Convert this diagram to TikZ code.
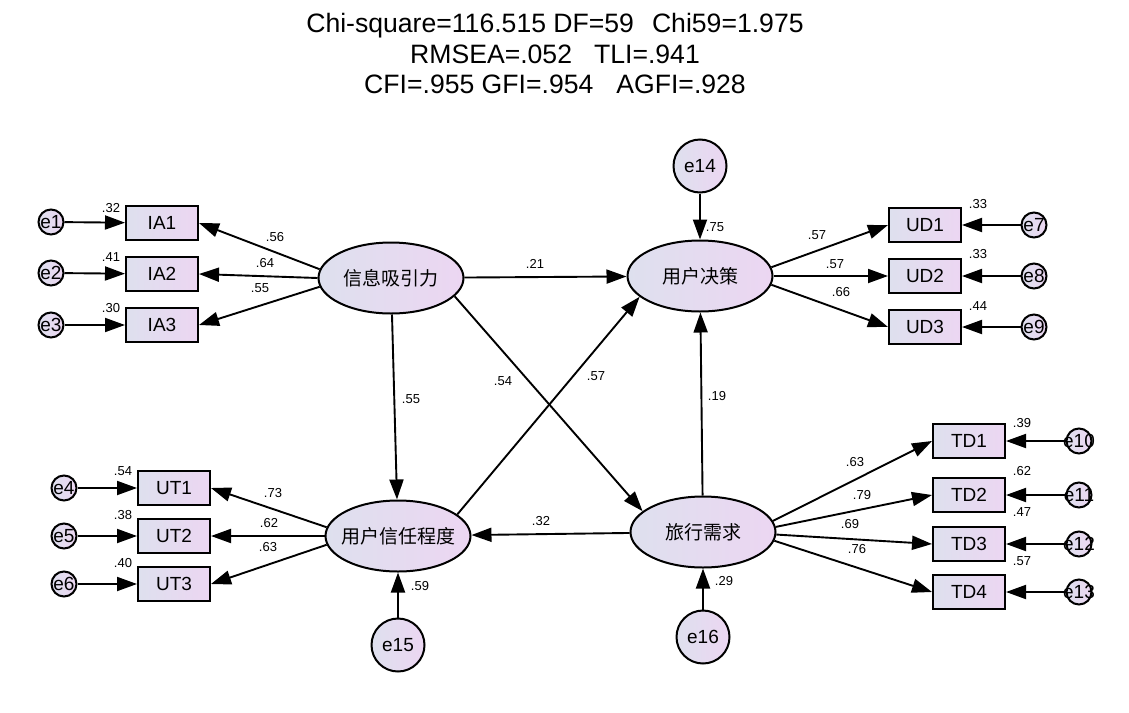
\documentclass[tikz,border=0pt]{standalone}
\usepackage{fontspec}
\setmainfont{Liberation Sans}
\newfontfamily\cjk{Noto Sans CJK SC}
\usetikzlibrary{arrows.meta,shapes.geometric}
\definecolor{shadeL}{RGB}{222,224,238}
\definecolor{shadeR}{RGB}{236,214,242}

\begin{document}
\begin{tikzpicture}[x=1pt, y=-1pt, line width=1.9pt, >={Triangle[length=20pt,width=14pt]},
  obs/.style={draw, line width=2pt, left color=shadeL, right color=shadeR, minimum width=72pt, minimum height=34pt, inner sep=0pt, font=\fontsize{19}{21}\selectfont},
  lat/.style={ellipse, draw, line width=2pt, left color=shadeL, right color=shadeR, minimum width=145pt, minimum height=71pt, inner sep=0pt, inner xsep=-10pt, font=\cjk\fontsize{19}{22}\selectfont},
  err/.style={circle, draw, line width=2pt, left color=shadeL, right color=shadeR, minimum size=25pt, inner sep=0pt, label={[font=\fontsize{19}{21}\selectfont]center:#1}},
  bigerr/.style={circle, draw, line width=2pt, left color=shadeL, right color=shadeR, minimum size=53pt, inner sep=0pt, font=\fontsize{19}{21}\selectfont},
  est/.style={inner sep=0pt, font=\fontsize{13}{15}\selectfont},
  fitline/.style={anchor=base, inner sep=0pt, font=\fontsize{26.6}{30}\selectfont}]
  \useasboundingbox (0,0) rectangle (1129,712);
  % --- fit indices ---
  \node[fitline] (fit1) at (555,32) {Chi-square=116.515 DF=59\hspace{18pt}Chi59=1.975};
  \node[fitline] (fit2) at (555,63) {RMSEA=.052\hspace{22pt}TLI=.941};
  \node[fitline] (fit3) at (555,93) {CFI=.955 GFI=.954\hspace{23pt}AGFI=.928};
  % --- latent variables ---
  \node[lat] (ia) at (391,278) {信息吸引力};
  \node[lat] (ud) at (700,276) {用户决策};
  \node[lat] (ut) at (398,536) {用户信任程度};
  \node[lat] (td) at (703,532) {旅行需求};
  % --- indicators ---
  \node[obs] (IA1) at (162,223) {IA1};
  \node[obs] (IA2) at (162,274) {IA2};
  \node[obs] (IA3) at (162,325) {IA3};
  \node[obs] (UD1) at (925,225) {UD1};
  \node[obs] (UD2) at (925,276) {UD2};
  \node[obs] (UD3) at (925,327) {UD3};
  \node[obs] (UT1) at (174,488) {UT1};
  \node[obs] (UT2) at (174,536) {UT2};
  \node[obs] (UT3) at (174,584) {UT3};
  \node[obs] (TD1) at (969,441) {TD1};
  \node[obs] (TD2) at (969,495) {TD2};
  \node[obs] (TD3) at (969,544) {TD3};
  \node[obs] (TD4) at (969,592) {TD4};
  % --- error terms ---
  \node[err=e1] (e1) at (51,222) {};
  \node[err=e2] (e2) at (51,273) {};
  \node[err=e3] (e3) at (51,325) {};
  \node[err=e4] (e4) at (64,488) {};
  \node[err=e5] (e5) at (64,536) {};
  \node[err=e6] (e6) at (64,584) {};
  \node[err=e7] (e7) at (1034,225) {};
  \node[err=e8] (e8) at (1034,276) {};
  \node[err=e9] (e9) at (1034,327) {};
  \node[err=e10] (e10) at (1079,441) {};
  \node[err=e11] (e11) at (1079,495) {};
  \node[err=e12] (e12) at (1079,544) {};
  \node[err=e13] (e13) at (1079,592) {};
  \node[bigerr] (e14) at (700,166) {e14};
  \node[bigerr] (e15) at (398,645) {e15};
  \node[bigerr] (e16) at (703,637) {e16};
  % --- measurement paths ---
  \draw[->] (ia.173) -- (IA1.east);
  \draw[->] (ia.west) -- (IA2.east);
  \draw[->] (ia.187) -- (IA3.east);
  \draw[->] (ud.7) -- (UD1.west);
  \draw[->] (ud.east) -- (UD2.west);
  \draw[->] (ud.353) -- (UD3.west);
  \draw[->] (ut.173) -- (UT1.east);
  \draw[->] (ut.west) -- (UT2.east);
  \draw[->] (ut.187) -- (UT3.east);
  \draw[->] (td.9) -- (TD1.west);
  \draw[->] (td.4) -- (TD2.west);
  \draw[->] (td.358) -- (TD3.west);
  \draw[->] (td.353) -- (TD4.west);
  % --- error paths ---
  \draw[->] (e1) -- (IA1);
  \draw[->] (e2) -- (IA2);
  \draw[->] (e3) -- (IA3);
  \draw[->] (e4) -- (UT1);
  \draw[->] (e5) -- (UT2);
  \draw[->] (e6) -- (UT3);
  \draw[->] (e7) -- (UD1);
  \draw[->] (e8) -- (UD2);
  \draw[->] (e9) -- (UD3);
  \draw[->] (e10) -- (TD1);
  \draw[->] (e11) -- (TD2);
  \draw[->] (e12) -- (TD3);
  \draw[->] (e13) -- (TD4);
  \draw[->] (e14) -- (ud);
  \draw[->] (e15) -- (ut);
  \draw[->] (e16) -- (td);
  % --- structural paths ---
  \draw[->] (ia) -- (ud);
  \draw[->] (ia) -- (ut);
  \draw[->] (ia.344) -- (td.161);
  \draw[->] (ut.20) -- (ud.199);
  \draw[->] (td) -- (ud);
  \draw[->] (td) -- (ut);
  % --- estimates ---
  \node[est] (r1) at (111,208) {.32};
  \node[est] (r2) at (111,257) {.41};
  \node[est] (r3) at (111,308) {.30};
  \node[est] (l1) at (275,237) {.56};
  \node[est] (l2) at (265,263) {.64};
  \node[est] (l3) at (260,288) {.55};
  \node[est] (r4) at (123,471) {.54};
  \node[est] (r5) at (123,515) {.38};
  \node[est] (r6) at (123,563) {.40};
  \node[est] (l4) at (273,493) {.73};
  \node[est] (l5) at (269,523) {.62};
  \node[est] (l6) at (268,547) {.63};
  \node[est] (r7) at (978,204) {.33};
  \node[est] (r8) at (978,254) {.33};
  \node[est] (r9) at (978,306) {.44};
  \node[est] (l7) at (817,235) {.57};
  \node[est] (l8) at (835,264) {.57};
  \node[est] (l9) at (841,292) {.66};
  \node[est] (r10) at (1022,423) {.39};
  \node[est] (r11) at (1022,471) {.62};
  \node[est] (r12) at (1022,512) {.47};
  \node[est] (r13) at (1022,561) {.57};
  \node[est] (l10) at (855,462) {.63};
  \node[est] (l11) at (862,495) {.79};
  \node[est] (l12) at (850,524) {.69};
  \node[est] (l13) at (857,549) {.76};
  \node[est] (r14) at (715,227) {.75};
  \node[est] (r15) at (420,586) {.59};
  \node[est] (r16) at (724,581) {.29};
  \node[est] (b1) at (535,264) {.21};
  \node[est] (b2) at (411,399) {.55};
  \node[est] (b3) at (503,381) {.54};
  \node[est] (b4) at (596,376) {.57};
  \node[est] (b5) at (717,396) {.19};
  \node[est] (b6) at (541,521) {.32};
\end{tikzpicture}
\end{document}
